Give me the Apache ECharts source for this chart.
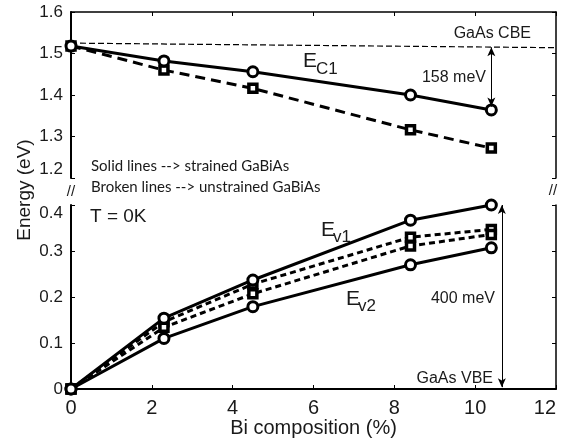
<!DOCTYPE html>
<html>
<head>
<meta charset="utf-8">
<script src="https://cdn.jsdelivr.net/npm/echarts@6/dist/echarts.min.js"></script>
<style>html,body{margin:0;padding:0;background:#fff;}#c{width:568px;height:444px;}</style>
</head>
<body>
<div id="c"></div>
<script>
// ---- data ----
const bi = [0, 2.3, 4.5, 8.4, 10.4];
const ec1Strained = [1.518, 1.482, 1.456, 1.400, 1.364];
const ec1Unstrained = [1.518, 1.460, 1.416, 1.316, 1.272];
const ev1Strained = [0, 0.154, 0.237, 0.367, 0.400];
const ev2Strained = [0, 0.110, 0.179, 0.270, 0.307];
const ev1Unstrained = [0, 0.146, 0.228, 0.330, 0.347];
const ev2Unstrained = [0, 0.134, 0.207, 0.311, 0.336];
const cbeX = [0, 12];
const cbeY = [1.525, 1.514];
const xTicks = [0, 2, 4, 6, 8, 10, 12];
const upperTicks = [1.2, 1.3, 1.4, 1.5, 1.6];
const lowerTicks = [0, 0.1, 0.2, 0.3, 0.4];
const cbeArrow = [[10.4, 1.515], [10.4, 1.372]];
const vbeArrow = [[10.66, 0.4], [10.66, 0.004]];

const pair = (xs, ys) => xs.map((x, i) => [x, ys[i]]);
const FONT = '"Liberation Sans", Arial, sans-serif';
const INK = '#000';
const TXT = '#1a1a1a';

const chart = echarts.init(document.getElementById('c'), null, {renderer: 'canvas'});

function solid(name, ys, xi, yi) {
  return {
    name, type: 'line', xAxisIndex: xi, yAxisIndex: yi, data: pair(bi, ys),
    symbol: 'circle', symbolSize: 10, clip: false, z: 4,
    lineStyle: {color: INK, width: 3, type: 'solid'},
    itemStyle: {color: '#fff', borderColor: INK, borderWidth: 3},
    emphasis: {disabled: true}
  };
}
function broken(name, ys, xi, yi, dash) {
  return {
    name, type: 'line', xAxisIndex: xi, yAxisIndex: yi, data: pair(bi, ys),
    symbol: 'rect', symbolSize: 8, clip: false, z: 3,
    lineStyle: {color: INK, width: 3, type: dash},
    itemStyle: {color: '#fff', borderColor: INK, borderWidth: 3.5},
    emphasis: {disabled: true}
  };
}
const arrowML = (pts) => ({
  silent: true, symbol: ['arrow', 'arrow'], symbolSize: [6, 9],
  lineStyle: {color: INK, width: 1, type: 'solid'},
  label: {show: false},
  data: [[{coord: pts[0]}, {coord: pts[1]}]]
});

const yLab = (fmt) => ({show: true, fontFamily: FONT, fontSize: 17, color: TXT, margin: 8, formatter: fmt});

const option = {
  animation: false,
  backgroundColor: '#fff',
  grid: [
    {left: 71, right: 12, top: 12, height: 166},
    {left: 71, right: 12, top: 205, bottom: 55}
  ],
  xAxis: [
    {gridIndex: 0, type: 'value', min: xTicks[0], max: xTicks[xTicks.length-1], interval: 2, position: 'top',
     axisLine: {show: true, lineStyle: {color: INK, width: 1.5}},
     axisTick: {show: true, inside: true, length: 4, lineStyle: {color: INK, width: 1}},
     axisLabel: {show: false}, splitLine: {show: false}},
    {gridIndex: 1, type: 'value', min: xTicks[0], max: xTicks[xTicks.length-1], interval: 2, position: 'bottom',
     name: 'Bi composition (%)', nameLocation: 'middle', nameGap: 29,
     nameTextStyle: {fontFamily: FONT, fontSize: 20, color: TXT},
     axisLine: {show: true, onZero: false, lineStyle: {color: INK, width: 2}},
     axisTick: {show: true, inside: true, length: 4, lineStyle: {color: INK, width: 1}},
     axisLabel: {show: true, fontFamily: FONT, fontSize: 20, color: TXT, margin: 9, alignMaxLabel: 'right'},
     splitLine: {show: false}}
  ],
  yAxis: [
    {gridIndex: 0, type: 'value', min: upperTicks[0], max: upperTicks[upperTicks.length-1], interval: 0.1, position: 'left',
     axisLine: {show: true, onZero: false, lineStyle: {color: INK, width: 2}},
     axisTick: {show: true, inside: true, length: 4, lineStyle: {color: INK, width: 1}},
     axisLabel: Object.assign(yLab(v => v.toFixed(1)), {verticalAlignMinLabel: 'bottom'}),
     splitLine: {show: false}},
    {gridIndex: 0, type: 'value', min: upperTicks[0], max: upperTicks[upperTicks.length-1], interval: 0.1, position: 'right',
     axisLine: {show: true, onZero: false, lineStyle: {color: INK, width: 1.5}},
     axisTick: {show: true, inside: true, length: 4, lineStyle: {color: INK, width: 1}},
     axisLabel: {show: false}, splitLine: {show: false}},
    {gridIndex: 1, type: 'value', min: lowerTicks[0], max: lowerTicks[lowerTicks.length-1], interval: 0.1, position: 'left',
     axisLine: {show: true, onZero: false, lineStyle: {color: INK, width: 2}},
     axisTick: {show: true, inside: true, length: 4, lineStyle: {color: INK, width: 1}},
     axisLabel: Object.assign(yLab(v => v === 0 ? '0' : v.toFixed(1)), {verticalAlignMaxLabel: 'top'}),
     splitLine: {show: false}},
    {gridIndex: 1, type: 'value', min: lowerTicks[0], max: lowerTicks[lowerTicks.length-1], interval: 0.1, position: 'right',
     axisLine: {show: true, onZero: false, lineStyle: {color: INK, width: 1.5}},
     axisTick: {show: true, inside: true, length: 4, lineStyle: {color: INK, width: 1}},
     axisLabel: {show: false}, splitLine: {show: false}}
  ],
  series: [
    {name: 'GaAs CBE', type: 'line', xAxisIndex: 0, yAxisIndex: 0, data: pair(cbeX, cbeY),
     symbol: 'none', z: 2, lineStyle: {color: INK, width: 1.2, type: [6, 3]},
     markLine: arrowML(cbeArrow), emphasis: {disabled: true}},
    broken('Ec1 unstrained', ec1Unstrained, 0, 0, [10, 6]),
    solid('Ec1 strained', ec1Strained, 0, 0),
    broken('Ev1 unstrained', ev1Unstrained, 1, 2, [6, 4]),
    broken('Ev2 unstrained', ev2Unstrained, 1, 2, [6, 4]),
    solid('Ev1 strained', ev1Strained, 1, 2),
    Object.assign(solid('Ev2 strained', ev2Strained, 1, 2), {markLine: arrowML(vbeArrow)})
  ],
  graphic: [
    {type: 'text', style: {text: 'Energy (eV)', x: 0, y: 0, font: '19px ' + FONT, fill: TXT, align: 'center', verticalAlign: 'middle'},
     x: 25, y: 190, rotation: Math.PI / 2},
    {type: 'text', style: {text: 'GaAs CBE', x: 531, y: 34, font: '16px ' + FONT, fill: TXT, align: 'right', verticalAlign: 'middle'}},
    {type: 'text', style: {text: 'E', x: 303, y: 61, font: '21px ' + FONT, fill: TXT, align: 'left', verticalAlign: 'middle'}},
    {type: 'text', style: {text: 'C1', x: 316, y: 69, font: '17px ' + FONT, fill: TXT, align: 'left', verticalAlign: 'middle'}},
    {type: 'text', style: {text: '158 meV', x: 486, y: 78, font: '16px ' + FONT, fill: TXT, align: 'right', verticalAlign: 'middle'}},
    {type: 'text', style: {text: 'Solid lines --> strained GaBiAs', x: 91, y: 166, font: '15px Lato, sans-serif', fill: TXT, align: 'left', verticalAlign: 'middle'}},
    {type: 'text', style: {text: 'Broken lines --> unstrained GaBiAs', x: 91, y: 187, font: '15px Lato, sans-serif', fill: TXT, align: 'left', verticalAlign: 'middle'}},
    {type: 'text', style: {text: '//', x: 71, y: 192, font: '15px ' + FONT, fill: TXT, align: 'center', verticalAlign: 'middle'}},
    {type: 'text', style: {text: '//', x: 553, y: 191, font: '15px ' + FONT, fill: TXT, align: 'center', verticalAlign: 'middle'}},
    {type: 'text', style: {text: 'T = 0K', x: 90, y: 217, font: '19px ' + FONT, fill: TXT, align: 'left', verticalAlign: 'middle'}},
    {type: 'text', style: {text: 'E', x: 321, y: 230, font: '21px ' + FONT, fill: TXT, align: 'left', verticalAlign: 'middle'}},
    {type: 'text', style: {text: 'v1', x: 333, y: 237, font: '17px ' + FONT, fill: TXT, align: 'left', verticalAlign: 'middle'}},
    {type: 'text', style: {text: 'E', x: 346, y: 299, font: '21px ' + FONT, fill: TXT, align: 'left', verticalAlign: 'middle'}},
    {type: 'text', style: {text: 'v2', x: 358, y: 306, font: '17px ' + FONT, fill: TXT, align: 'left', verticalAlign: 'middle'}},
    {type: 'text', style: {text: '400 meV', x: 495, y: 299, font: '16px ' + FONT, fill: TXT, align: 'right', verticalAlign: 'middle'}},
    {type: 'text', style: {text: 'GaAs VBE', x: 493, y: 379, font: '16px ' + FONT, fill: TXT, align: 'right', verticalAlign: 'middle'}}
  ]
};
chart.setOption(option);
</script>
</body>
</html>
